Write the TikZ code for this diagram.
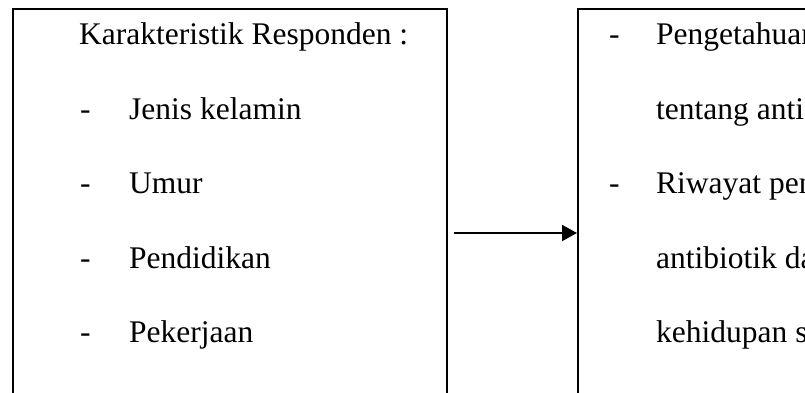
\documentclass[tikz,border=0pt]{standalone}
\usepackage{fontspec}
\setmainfont{Liberation Serif}
\usetikzlibrary{arrows.meta}
\begin{document}
\begin{tikzpicture}[x=1pt, y=-1pt, >={Triangle[length=15pt,width=16pt]},
txt/.style={anchor=base west, inner sep=0pt, font=\fontsize{31.5}{38}\selectfont},
box/.style={draw, line width=2pt, anchor=north west, inner sep=0pt}]
\useasboundingbox (0, 0) rectangle (805, 393);
\clip (0, 0) rectangle (805, 393);

\node[box, minimum width=434pt, minimum height=420pt] (traits) at (12, 8) {};
\node[txt] (title) at (79, 45) {Karakteristik Responden :};
\node[txt] (dash1) at (80, 120) {-};
\node[txt] (gender) at (129, 120) {Jenis kelamin};
\node[txt] (dash2) at (80, 193) {-};
\node[txt] (age) at (129, 193) {Umur};
\node[txt] (dash3) at (80, 268) {-};
\node[txt] (education) at (129, 268) {Pendidikan};
\node[txt] (dash4) at (80, 342) {-};
\node[txt] (job) at (129, 342) {Pekerjaan};

\node[box, minimum width=300pt, minimum height=420pt] (outcome) at (577, 8) {};
\node[txt] (dash5) at (609, 45) {-};
\node[txt] (knowledge1) at (656, 45) {Pengetahuan};
\node[txt] (knowledge2) at (656, 120) {tentang anti};
\node[txt] (dash6) at (609, 193) {-};
\node[txt] (history1) at (656, 193) {Riwayat pen};
\node[txt] (history2) at (656, 268) {antibiotik da};
\node[txt] (history3) at (656, 342) {kehidupan s};

\coordinate (arrowtail) at (454, 233);
\draw[->, line width=2pt] (arrowtail) -- (arrowtail -| outcome.west);
\end{tikzpicture}
\end{document}
